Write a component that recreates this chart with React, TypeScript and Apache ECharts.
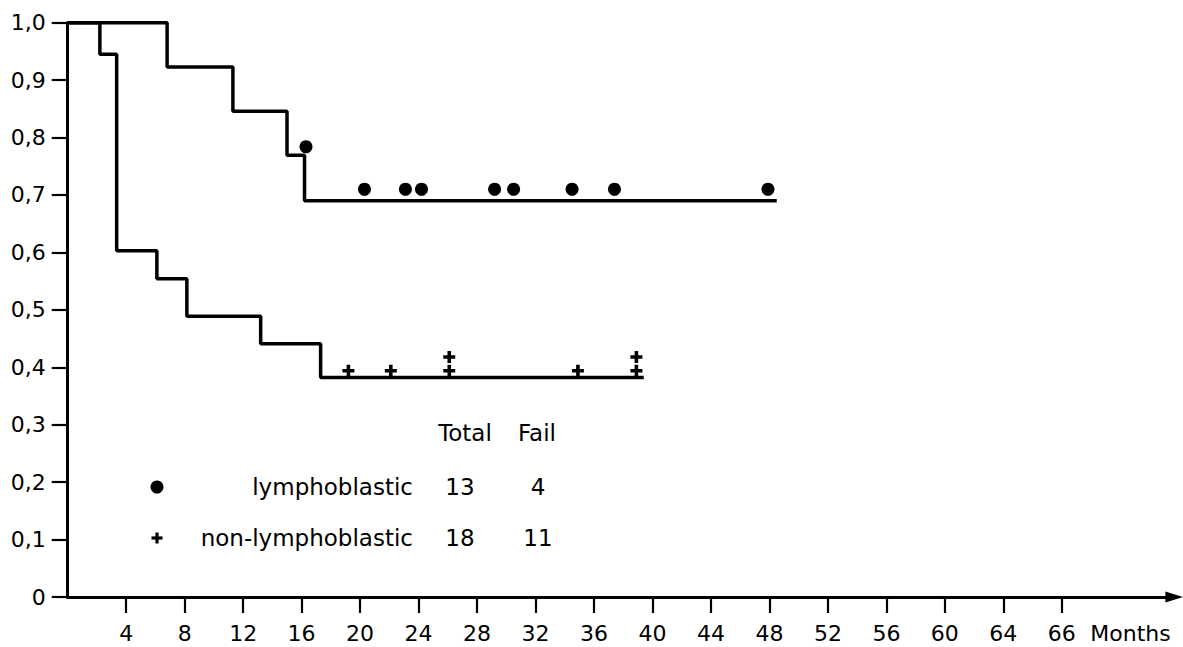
import React, { useEffect, useRef } from 'react';
import * as echarts from 'echarts';

// Kaplan-Meier step curves: [months, survival]
const lymphCurve: [number, number][] = [
  [0, 1], [6.8, 0.923], [11.3, 0.846], [15.0, 0.769], [16.2, 0.69], [48.5, 0.69],
];
const nonLymphCurve: [number, number][] = [
  [0, 1], [2.2, 0.945], [3.35, 0.603], [6.1, 0.554], [8.15, 0.489], [13.2, 0.441], [17.3, 0.382], [39.4, 0.382],
];
// censored observations
const lymphCensored: [number, number][] = [
  [16.3, 0.784], [20.3, 0.71], [23.1, 0.71], [24.2, 0.71], [29.2, 0.71], [30.5, 0.71], [34.5, 0.71], [37.4, 0.71], [47.9, 0.71],
];
const nonLymphCensored: [number, number][] = [
  [19.2, 0.394], [22.1, 0.394], [26.1, 0.394], [26.1, 0.418], [34.9, 0.394], [38.9, 0.394], [38.9, 0.418],
];

// axis ticks
const xTickValues = [4, 8, 12, 16, 20, 24, 28, 32, 36, 40, 44, 48, 52, 56, 60, 64, 68];
const xTickLabels = ['4', '8', '12', '16', '20', '24', '28', '32', '36', '40', '44', '48', '52', '56', '60', '64', '66'];
const xUnitValue = 72.7;
const xUnitLabel = 'Months';

// legend table
const tableHeaders = ['Total', 'Fail'];
const groups = ['lymphoblastic', 'non-lymphoblastic'];
const totals = [13, 18];
const fails = [4, 11];

const FONT = 'DejaVu Sans';
const PLUS = 'path://M3.5,0H6.5V3.5H10V6.5H6.5V10H3.5V6.5H0V3.5H3.5Z';

export default function App() {
  const ref = useRef<HTMLDivElement>(null);
  useEffect(() => {
    if (!ref.current) return;
    const chart = echarts.init(ref.current, null, { renderer: 'svg' });
    const labelMap: Record<number, string> = {};
    xTickValues.forEach((v, i) => (labelMap[v] = xTickLabels[i]));
    labelMap[xUnitValue] = xUnitLabel;

    const rowY = [487, 538];
    const tf = `23px "${FONT}"`;
    const graphic: any[] = [
      { type: 'text', x: 465, y: 433, style: { text: tableHeaders[0], font: tf, fill: '#000', align: 'center', verticalAlign: 'middle' } },
      { type: 'text', x: 537, y: 433, style: { text: tableHeaders[1], font: tf, fill: '#000', align: 'center', verticalAlign: 'middle' } },
    ];
    groups.forEach((g, i) => {
      graphic.push(
        { type: 'text', x: 413, y: rowY[i], style: { text: g, font: tf, fill: '#000', align: 'right', verticalAlign: 'middle' } },
        { type: 'text', x: 460, y: rowY[i], style: { text: String(totals[i]), font: tf, fill: '#000', align: 'center', verticalAlign: 'middle' } },
        { type: 'text', x: 538, y: rowY[i], style: { text: String(fails[i]), font: tf, fill: '#000', align: 'center', verticalAlign: 'middle' } },
      );
    });
    graphic.push(
      { type: 'circle', shape: { cx: 157, cy: rowY[0], r: 6.5 }, style: { fill: '#000' } },
      { type: 'rect', shape: { x: 151.5, y: rowY[1] - 1.6, width: 11, height: 3.2 }, style: { fill: '#000' } },
      { type: 'rect', shape: { x: 155.4, y: rowY[1] - 5.5, width: 3.2, height: 11 }, style: { fill: '#000' } },
    );

    chart.setOption({
      animation: false,
      backgroundColor: '#fff',
      grid: { left: 67.7, top: 22.7, right: 8.6, bottom: 50, containLabel: false },
      xAxis: {
        type: 'value',
        min: 0,
        max: 75.7,
        splitLine: { show: false },
        axisLine: {
          show: true,
          symbol: ['none', 'triangle'],
          symbolSize: [11, 18],
          lineStyle: { color: '#000', width: 3 },
        },
        axisTick: {
          show: true,
          customValues: xTickValues,
          length: 16,
          lineStyle: { color: '#000', width: 2.2 },
        },
        axisLabel: {
          customValues: [...xTickValues, xUnitValue],
          formatter: (v: number) => labelMap[v] ?? '',
          margin: 25,
          color: '#000',
          fontFamily: FONT,
          fontSize: 22,
        },
      },
      yAxis: {
        type: 'value',
        min: 0,
        max: 1,
        interval: 0.1,
        splitLine: { show: false },
        axisLine: { show: true, lineStyle: { color: '#000', width: 3 } },
        axisTick: { show: true, length: 16, lineStyle: { color: '#000', width: 2.2 } },
        axisLabel: {
          formatter: (v: number) => (v === 0 ? '0' : v.toFixed(1).replace('.', ',')),
          margin: 22,
          color: '#000',
          fontFamily: FONT,
          fontSize: 22,
        },
      },
      series: [
        {
          type: 'line', step: 'end', data: lymphCurve, symbol: 'none',
          lineStyle: { color: '#000', width: 3.5 }, z: 2,
        },
        {
          type: 'line', step: 'end', data: nonLymphCurve, symbol: 'none',
          lineStyle: { color: '#000', width: 3.5 }, z: 2,
        },
        {
          type: 'scatter', data: lymphCensored, symbol: 'circle', symbolSize: 13,
          itemStyle: { color: '#000', opacity: 1 }, z: 3,
        },
        {
          type: 'scatter', data: nonLymphCensored, symbol: PLUS, symbolSize: 12,
          itemStyle: { color: '#000', opacity: 1 }, z: 3,
        },
      ],
      graphic,
    });
    return () => chart.dispose();
  }, []);
  return (
    <div
      ref={ref}
      style={{ position: 'absolute', left: 0, top: 0, width: 1183, height: 647, background: '#fff' }}
    />
  );
}
